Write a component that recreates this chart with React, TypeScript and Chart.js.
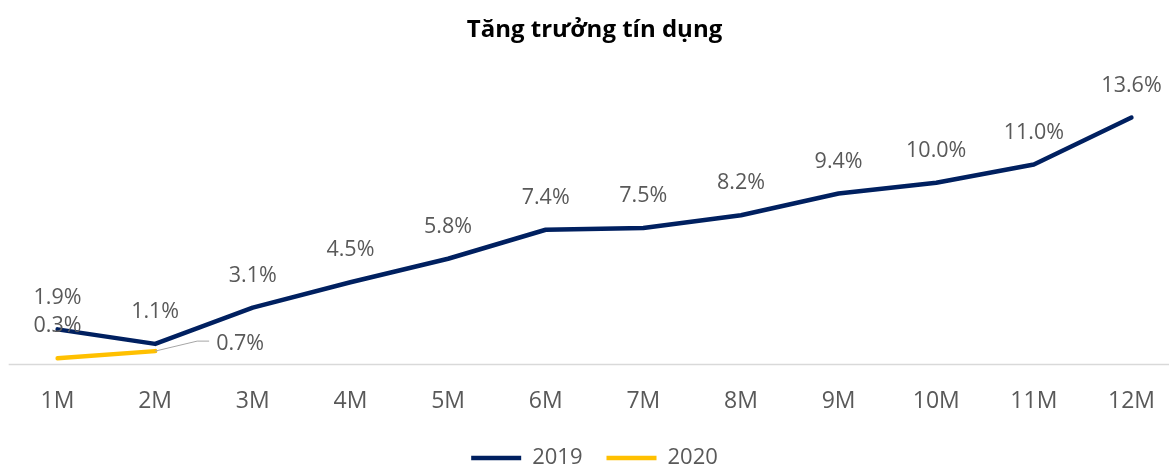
import React, { useEffect, useRef } from "react";
import { Chart, registerables } from "chart.js";

Chart.register(...registerables);

const categories = ["1M", "2M", "3M", "4M", "5M", "6M", "7M", "8M", "9M", "10M", "11M", "12M"];
const values2019 = [1.9, 1.1, 3.1, 4.5, 5.8, 7.4, 7.5, 8.2, 9.4, 10.0, 11.0, 13.6];
const values2020 = [0.3, 0.7, null, null, null, null, null, null, null, null, null, null];
const seriesNames = ["2019", "2020"];
const titleText = "Tăng trưởng tín dụng";

const FONT = "'Open Sans', 'Noto Sans', sans-serif";
const TEXT = "#595959";

const baselinePlugin = {
  id: "baseline",
  beforeDatasetsDraw(chart: any) {
    const { ctx, chartArea, scales } = chart;
    const x = scales.x;
    const y = scales.y;
    const step = (chartArea.right - chartArea.left) / (categories.length - 1);
    const py = Math.round(y.getPixelForValue(0)) + 0.5;
    ctx.save();
    ctx.strokeStyle = "#d9d9d9";
    ctx.lineWidth = 1.5;
    ctx.beginPath();
    ctx.moveTo(x.left - step / 2, py);
    ctx.lineTo(x.right + step / 2, py);
    ctx.stroke();
    ctx.restore();
  },
};

const labelsPlugin = {
  id: "valueLabels",
  afterDatasetsDraw(chart: any) {
    const { ctx } = chart;
    ctx.save();
    ctx.font = `21.5px ${FONT}`;
    ctx.fillStyle = TEXT;
    ctx.textBaseline = "middle";
    chart.data.datasets.forEach((ds: any, di: number) => {
      const meta = chart.getDatasetMeta(di);
      meta.data.forEach((pt: any, i: number) => {
        const v = ds.data[i];
        if (v === null || v === undefined) return;
        const txt = v.toFixed(1) + "%";
        if (di === 1 && i === 1) {
          ctx.strokeStyle = "#a6a6a6";
          ctx.lineWidth = 1;
          ctx.beginPath();
          ctx.moveTo(pt.x, pt.y);
          ctx.lineTo(pt.x + 42, pt.y - 10);
          ctx.lineTo(pt.x + 54, pt.y - 10);
          ctx.stroke();
          ctx.textAlign = "left";
          ctx.fillText(txt, pt.x + 61, pt.y - 7);
        } else {
          ctx.textAlign = "center";
          ctx.fillText(txt, pt.x, pt.y - 32);
        }
      });
    });
    ctx.restore();
  },
};

export default function App() {
  const ref = useRef<HTMLCanvasElement | null>(null);

  useEffect(() => {
    if (!ref.current) return;
    const chart = new Chart(ref.current, {
      type: "line",
      data: {
        labels: categories,
        datasets: [
          {
            label: seriesNames[0],
            data: values2019,
            borderColor: "#002060",
            backgroundColor: "#002060",
            borderWidth: 4.5,
            borderCapStyle: "round",
            borderJoinStyle: "round",
            pointRadius: 0,
            tension: 0,
          },
          {
            label: seriesNames[1],
            data: values2020 as any,
            borderColor: "#FFC000",
            backgroundColor: "#FFC000",
            borderWidth: 4.5,
            borderCapStyle: "round",
            borderJoinStyle: "round",
            pointRadius: 0,
            tension: 0,
          },
        ],
      },
      options: {
        responsive: false,
        animation: false,
        layout: { padding: { left: 57.5, right: 37.5, top: 0, bottom: 0 } },
        scales: {
          x: {
            type: "category",
            offset: false,
            grid: { display: false, drawTicks: false },
            border: { display: false },
            ticks: { font: { family: FONT, size: 23 }, color: TEXT, padding: 24.2 },
            afterFit: (scale: any) => {
              scale.height -= 16.8;
              scale.paddingLeft = 0;
              scale.paddingRight = 0;
            },
          },
          y: {
            display: false,
            min: 0,
            max: 16,
          },
        },
        plugins: {
          title: {
            display: true,
            text: titleText,
            color: "#000000",
            font: { family: FONT, size: 24, weight: "bold" },
            padding: { top: 15.6, bottom: 29.6 },
          },
          legend: {
            position: "bottom",
            maxHeight: 43,
            labels: {
              usePointStyle: true,
              pointStyle: "line",
              pointStyleWidth: 50,
              font: { family: FONT, size: 22 },
              color: TEXT,
              padding: 24,
            },
          },
          tooltip: { enabled: false },
        },
      },
      plugins: [baselinePlugin, labelsPlugin],
    });
    return () => chart.destroy();
  }, []);

  return (
    <div style={{ position: "fixed", left: 0, top: 0, width: 1169, height: 466, background: "#ffffff" }}>
      <canvas ref={ref} width={1169} height={466} style={{ width: 1169, height: 466, display: "block" }} />
    </div>
  );
}
